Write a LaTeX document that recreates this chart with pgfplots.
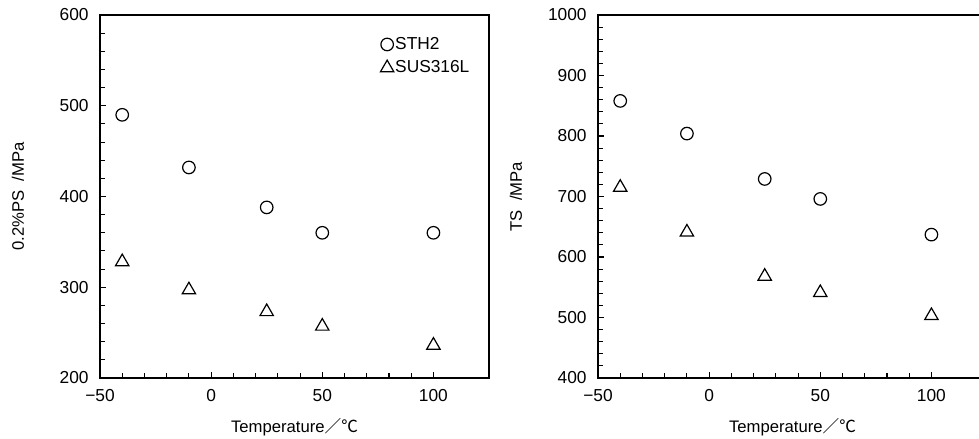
\documentclass[border=0pt]{standalone}
\usepackage{fontspec}
\setmainfont{Liberation Sans}
\newfontfamily\cjk{Noto Sans CJK JP}
\usepackage{pgfplots}
\pgfplotsset{compat=1.18}
\pgfplotsset{mystyle/.style={
  scale only axis, width=291.75pt, height=272.25pt,
  anchor=south west,
  xmin=-50, xmax=125,
  xtick={-50,0,50,100}, xticklabels={−50,0,50,100},
  minor x tick num=4, minor y tick num=4,
  tick pos=left, tick align=inside,
  major tick length=4.5pt, minor tick length=4pt,
  axis line style={line width=1.8pt},
  every tick/.style={black, line width=0.8pt},
  tick label style={font=\fontsize{13}{15}\selectfont},
  yticklabel style={xshift=-5pt},
  xticklabel style={yshift=-5pt},
  label style={font=\fontsize{12.5}{14}\selectfont},
  xlabel style={at={(axis description cs:0.5,-0.135)}, anchor=center},
  ylabel style={at={(axis description cs:-0.211,0.5)}, anchor=center},
  /pgf/number format/assume math mode=true,
  /pgf/number format/1000 sep={},
  xlabel={Temperature{\cjk ／℃}},
  legend image code/.code={\draw[#1] plot coordinates {(0.17cm,0cm)};},
}}
\begin{document}
\begin{tikzpicture}
\begin{axis}[mystyle, at={(0pt,0pt)},
  ymin=200, ymax=600, ytick={200,300,400,500,600},
  ylabel={0.2\%PS\ \ /MPa},
  legend style={draw=none, fill=none, at={(axis description cs:0.71,0.95)}, anchor=north west,
    font=\fontsize{13}{15}\selectfont, row sep=5pt, nodes={inner sep=1pt}},
  legend cell align=left]
\addplot[only marks, mark=o, mark size=4.7pt, mark options={line width=0.9pt}, black]
  coordinates {(-40,490) (-10,432) (25,388) (50,360) (100,360)};
\addlegendentry{STH2}
\addplot[only marks, mark=triangle, mark size=5.8pt, mark options={line width=0.9pt}, black]
  coordinates {(-40,328) (-10,297) (25,273) (50,257) (100,236)};
\addlegendentry{SUS316L}
\end{axis}
\begin{axis}[mystyle, at={(373.5pt,0pt)},
  ymin=400, ymax=1000, ytick={400,500,600,700,800,900,1000},
  ylabel={TS\ \ /MPa}]
\addplot[only marks, mark=o, mark size=4.7pt, mark options={line width=0.9pt}, black]
  coordinates {(-40,858) (-10,804) (25,729) (50,696) (100,637)};
\addplot[only marks, mark=triangle, mark size=5.8pt, mark options={line width=0.9pt}, black]
  coordinates {(-40,715) (-10,641) (25,568) (50,541) (100,503)};
\end{axis}
\pgfresetboundingbox
\useasboundingbox (-75pt,-45.75pt) rectangle (659.25pt,283.5pt);
\end{tikzpicture}
\end{document}
